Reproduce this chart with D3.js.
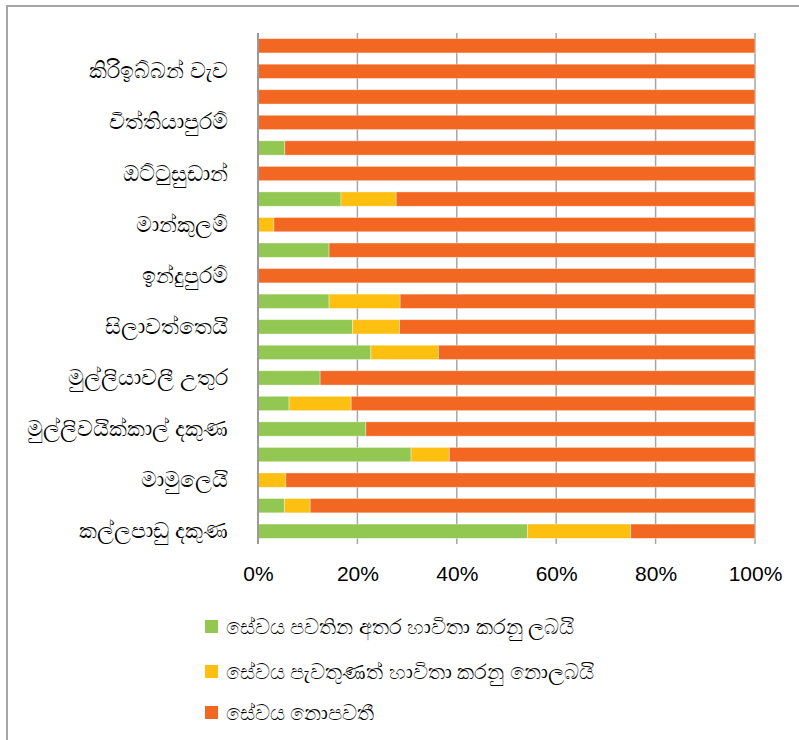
<!DOCTYPE html>
<html>
<head>
<meta charset="utf-8">
<script src="https://cdn.jsdelivr.net/npm/d3@7"></script>
<style>
  body { margin: 0; background: #fff; }
</style>
</head>
<body>
<div id="chart"></div>
<script>
// categories listed bottom -> top (Excel order); empty strings are rows whose label is skipped
const categories = [
  'කල්ලපාඩු දකුණ', '', 'මාමුලෙයි', '', 'මුල්ලිවයික්කාල් දකුණ', '',
  'මුල්ලියාවලී උතුර', '', 'සිලාවත්තෙයි', '', 'ඉන්දුපුරම්', '',
  'මාන්කුලම්', '', 'ඔට්ටුසුඩාන්', '', 'විත්තියාපුරම්', '',
  'කිරිඉබ්බන් වැව', ''
];

const used = [54.2, 5.3, 0, 30.8, 21.7, 6.25, 12.5, 22.7, 19.0, 14.3,
  0, 14.3, 0, 16.7, 0, 5.4, 0, 0, 0, 0];
const notUsed = [20.8, 5.2, 5.6, 7.7, 0, 12.5, 0, 13.6, 9.5, 14.3,
  0, 0, 3.2, 11.1, 0, 0, 0, 0, 0, 0];
const noService = [25.0, 89.5, 94.4, 61.5, 78.3, 81.25, 87.5, 63.7, 71.5, 71.4,
  100, 85.7, 96.8, 72.2, 100, 94.6, 100, 100, 100, 100];

const seriesNames = [
  'සේවය පවතින අතර හාවිතා කරනු ලබයි',
  'සේවය පැවතුණත් හාවිතා කරනු නොලබයි',
  'සේවය නොපවතී'
];
const colors = ['#92C851', '#FDBF10', '#F26722'];
const xTicks = [0, 20, 40, 60, 80, 100];

let margin = { top: 33, right: 44, bottom: 196, left: 258 },
  width = 799 - margin.left - margin.right,
  height = 740 - margin.top - margin.bottom;

let rows = categories.map((c, i) => ({
  idx: i, used: used[i], notUsed: notUsed[i], noService: noService[i]
}));

let stack = d3.stack().keys(['used', 'notUsed', 'noService']);
let layers = stack(rows);

let xScale = d3.scaleLinear().domain([0, 100]).range([0, width]);
let yScale = d3.scaleBand()
  .domain(d3.range(categories.length))
  .range([height, 0])
  .paddingInner(0.44)
  .paddingOuter(0.22);

let svg = d3.select('#chart').append('svg')
  .attr('width', 799)
  .attr('height', 740);

// chart frame
svg.append('rect')
  .attr('x', 7).attr('y', 6)
  .attr('width', 820).attr('height', 760)
  .attr('fill', 'none')
  .attr('stroke', '#a6a6a6')
  .attr('stroke-width', 2);

let vis = svg.append('g')
  .attr('transform', 'translate(' + margin.left + ',' + margin.top + ')');

// gridlines
vis.append('g')
  .selectAll('line')
  .data(xTicks.slice(1))
  .join('line')
  .attr('x1', (d) => xScale(d)).attr('x2', (d) => xScale(d))
  .attr('y1', 0).attr('y2', height)
  .attr('stroke', '#a6a6a6')
  .attr('stroke-width', 1.5);

// bars
vis.append('g')
  .selectAll('g')
  .data(layers)
  .join('g')
  .attr('fill', (d, i) => colors[i])
  .selectAll('rect')
  .data((d) => d)
  .join('rect')
  .attr('x', (d) => xScale(d[0]))
  .attr('y', (d) => yScale(d.data.idx))
  .attr('width', (d) => xScale(d[1]) - xScale(d[0]))
  .attr('height', yScale.bandwidth())
  .attr('stroke', '#ffffff')
  .attr('stroke-opacity', 0.45)
  .attr('stroke-width', (d) => (d[1] - d[0] > 0 ? 0.8 : 0));

// category axis
let yAxis = d3.axisLeft(yScale)
  .tickSize(0)
  .tickPadding(30)
  .tickFormat((i) => categories[i]);

let yG = vis.append('g').call(yAxis);
yG.select('.domain').remove();
yG.selectAll('text')
  .attr('font-size', 22)
  .attr('font-family', 'Noto Sans, DejaVu Sans, sans-serif')
  .attr('fill', '#000');

vis.append('line')
  .attr('x1', 0).attr('x2', 0)
  .attr('y1', 0).attr('y2', height)
  .attr('stroke', '#9a9a9a')
  .attr('stroke-width', 2);

// value axis
let xAxis = d3.axisBottom(xScale)
  .tickValues(xTicks)
  .tickSize(0)
  .tickPadding(22)
  .tickFormat((x) => x + '%');

let xG = vis.append('g')
  .attr('transform', 'translate(0,' + height + ')')
  .call(xAxis);
xG.select('.domain').remove();
xG.selectAll('text')
  .attr('font-size', 21)
  .attr('font-family', 'Liberation Sans, Arial, sans-serif')
  .attr('fill', '#000');

// legend
let legend = svg.append('g')
  .attr('transform', 'translate(205,620)');

let item = legend.selectAll('g')
  .data(seriesNames)
  .join('g')
  .attr('transform', (d, i) => 'translate(0,' + [0, 45, 86][i] + ')');

item.append('rect')
  .attr('width', 13).attr('height', 13)
  .attr('fill', (d, i) => colors[i]);

item.append('text')
  .attr('x', 21).attr('y', 7)
  .attr('dy', '0.35em')
  .attr('font-size', 21)
  .attr('font-family', 'Noto Sans, DejaVu Sans, sans-serif')
  .text((d) => d);
</script>
</body>
</html>
